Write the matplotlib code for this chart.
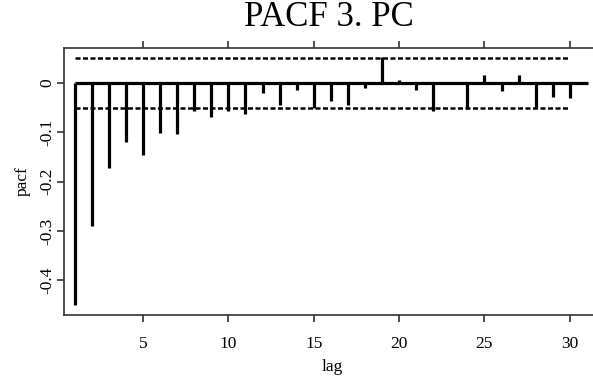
import matplotlib
matplotlib.use("Agg")
import matplotlib.pyplot as plt
import numpy as np

lags = list(range(1, 31))
pacf = [-0.451, -0.290, -0.173, -0.119, -0.146, -0.101, -0.103, -0.056, -0.069, -0.057,
        -0.062, -0.021, -0.044, -0.015, -0.050, -0.036, -0.044, -0.011, 0.053, 0.007,
        -0.015, -0.057, 0.0, -0.052, 0.016, -0.017, 0.016, -0.050, -0.028, -0.030]
conf = 0.05
xticks = [5, 10, 15, 20, 25, 30]
yticks = [0, -0.1, -0.2, -0.3, -0.4]
ytick_labels = ["0", "-0.1", "-0.2", "-0.3", "-0.4"]

plt.rcParams['font.family'] = ['Liberation Serif', 'DejaVu Serif']

fig = plt.figure(figsize=(5.93, 3.85), dpi=100)
ax = fig.add_axes([64/593, 1-315/385, (600-64)/593, (315-48)/385])

ax.vlines(lags, 0, pacf, colors='black', lw=2.3)
ax.plot([1, 31.05], [0, 0], color='black', lw=2.3, solid_capstyle='butt')
ax.plot([1, 30], [conf, conf], color='black', lw=1.8, linestyle=(0, (2, 1)))
ax.plot([1, 30], [-conf, -conf], color='black', lw=1.8, linestyle=(0, (2, 1)))

ax.set_xlim(0.37, 31.77)
ax.set_ylim(-0.4706, 0.071)
ax.set_xticks(xticks)
ax.set_xticklabels([str(t) for t in xticks], fontsize=12.5)
ax.set_yticks(yticks)
ax.set_yticklabels(ytick_labels, fontsize=12.5, rotation=90, va='center')
ax.tick_params(axis='both', direction='out', length=5, width=1.2, color='#333333')
ax.tick_params(axis='x', top=True, labeltop=False, pad=10)
ax.tick_params(axis='y', pad=1.5)
for s in ax.spines.values():
    s.set_color('#333333')
    s.set_linewidth(1.2)
ax.spines['right'].set_visible(False)

ax.set_xlabel("lag", fontsize=12.5, labelpad=5)
ax.set_ylabel("pacf", fontsize=12.5, labelpad=6)
fig.text(329/593, 1-17/385, "PACF 3. PC", fontsize=25, ha='center', va='center')

fig.savefig("out.png", dpi=100)
